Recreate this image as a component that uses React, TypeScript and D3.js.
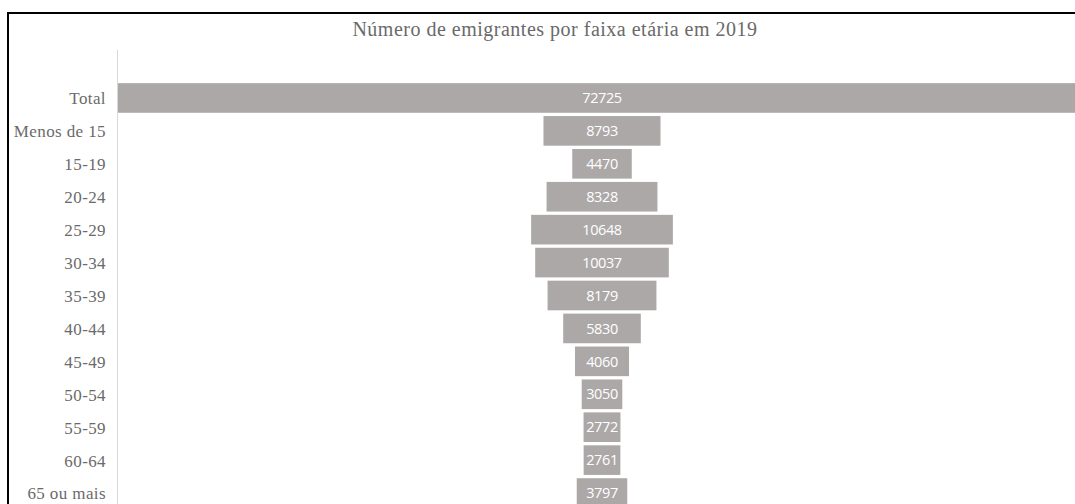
import { useEffect, useRef } from "react";
import * as d3 from "d3";

const width = 1075;
const height = 504;

const categories = [
  "Total", "Menos de 15", "15-19", "20-24", "25-29", "30-34", "35-39",
  "40-44", "45-49", "50-54", "55-59", "60-64", "65 ou mais",
];
const values = [72725, 8793, 4470, 8328, 10648, 10037, 8179, 5830, 4060, 3050, 2772, 2761, 3797];

const TITLE = "Número de emigrantes por faixa etária em 2019";

function App() {
  const svgRef = useRef(null);

  useEffect(() => {
    const svg = d3.select(svgRef.current);
    svg.selectAll("*").remove();

    const left = 118;
    const plotW = 968;
    const center = left + plotW / 2;

    // frame (runs past the right and bottom edge)
    svg.append("rect")
      .attr("x", 8).attr("y", 13)
      .attr("width", 1200).attr("height", 700)
      .attr("fill", "#fff")
      .attr("stroke", "#000")
      .attr("stroke-width", 2);

    svg.append("text")
      .attr("x", 555).attr("y", 36)
      .attr("text-anchor", "middle")
      .attr("font-family", "Liberation Serif, serif")
      .attr("font-size", 20)
      .attr("letter-spacing", 0.5)
      .attr("fill", "#6a6a6a")
      .text(TITLE);

    const y = d3.scaleBand()
      .domain(categories)
      .range([81.5, 509.5])
      .paddingInner(0.1)
      .paddingOuter(0.05);

    const w = d3.scaleLinear()
      .domain([0, d3.max(values)])
      .range([0, plotW]);

    const data = categories.map((c, i) => ({ c, v: values[i] }));

    svg.append("line")
      .attr("x1", left - 0.5).attr("x2", left - 0.5)
      .attr("y1", 50).attr("y2", height)
      .attr("stroke", "#d9d9d9");

    svg.append("g").selectAll("rect")
      .data(data)
      .join("rect")
      .attr("x", d => center - w(d.v) / 2)
      .attr("width", d => w(d.v))
      .attr("y", d => y(d.c))
      .attr("height", y.bandwidth())
      .attr("fill", "#aca8a8");

    svg.append("g").selectAll("text")
      .data(data)
      .join("text")
      .attr("x", center)
      .attr("y", d => y(d.c) + y.bandwidth() / 2)
      .attr("dy", "0.36em")
      .attr("text-anchor", "middle")
      .attr("font-family", "Open Sans, sans-serif")
      .attr("font-size", 14.5)
      .attr("letter-spacing", -0.4)
      .attr("fill", "#fff")
      .text(d => d.v);

    svg.append("g").selectAll("text")
      .data(data)
      .join("text")
      .attr("x", 106)
      .attr("y", d => y(d.c) + y.bandwidth() / 2)
      .attr("dy", "0.38em")
      .attr("text-anchor", "end")
      .attr("font-family", "Liberation Serif, serif")
      .attr("font-size", 17)
      .attr("letter-spacing", 0.4)
      .attr("fill", "#6a6a6a")
      .text(d => d.c);
  }, []);

  return (
    <div>
      <svg ref={svgRef} width={width} height={height}
        style={{ position: "absolute", left: 0, top: 0 }} />
    </div>
  );
}

export default App;
